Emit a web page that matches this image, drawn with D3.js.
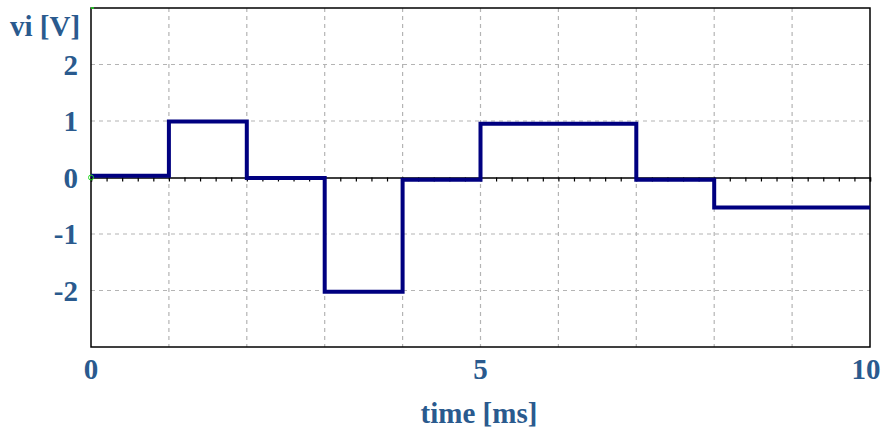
<!DOCTYPE html>
<html>
<head>
<meta charset="utf-8">
<script src="https://cdn.jsdelivr.net/npm/d3@7"></script>
<style>
  html, body { margin: 0; padding: 0; background: #fff; }
  svg { display: block; }
</style>
</head>
<body>
<svg id="chart" width="885" height="431"></svg>
<script>
// ---- data ----
const times = [0, 1, 2, 3, 4, 5, 7, 8, 10];
const voltages = [0.03, 0.99, -0.01, -2.02, -0.04, 0.95, -0.04, -0.53, -0.53];
const xTickLabels = [0, 5, 10];
const yTickLabels = [2, 1, 0, -1, -2];
const xGrid = [1, 2, 3, 4, 5, 6, 7, 8, 9];
const yGrid = [2, 1, -1, -2];
const xLabel = "time [ms]";
const yLabel = "vi [V]";

// ---- layout ----
const svg = d3.select("#chart");
const pLeft = 91, pRight = 870, pTop = 8, pBottom = 347;
const x = d3.scaleLinear().domain([0, 10]).range([pLeft, pRight]);
const y = d3.scaleLinear().domain([-3, 3]).range([pBottom, pTop]);
const textColor = "#2a5a8e";
const font = "'Liberation Serif', 'Times New Roman', serif";

// grid
svg.append("g").selectAll("line").data(xGrid).join("line")
  .attr("x1", d => x(d)).attr("x2", d => x(d))
  .attr("y1", pTop).attr("y2", pBottom)
  .attr("stroke", "#b4b4b4").attr("stroke-width", 1.2)
  .attr("stroke-dasharray", "4,4");
svg.append("g").selectAll("line").data(yGrid).join("line")
  .attr("x1", pLeft).attr("x2", pRight)
  .attr("y1", d => y(d)).attr("y2", d => y(d))
  .attr("stroke", "#b4b4b4").attr("stroke-width", 1.2)
  .attr("stroke-dasharray", "4,4");

// zero axis with minor ticks
const zeroAxis = d3.axisBottom(x)
  .tickValues(d3.range(0, 10.001, 0.2))
  .tickSize(4)
  .tickFormat("");
const za = svg.append("g").attr("transform", `translate(0,${y(0)})`).call(zeroAxis);
za.select(".domain").attr("stroke", "#000").attr("stroke-width", 1.5);
za.selectAll(".tick line").attr("stroke", "#000").attr("stroke-width", 1.2);

// frame
svg.append("rect")
  .attr("x", pLeft).attr("y", pTop)
  .attr("width", pRight - pLeft).attr("height", pBottom - pTop)
  .attr("fill", "none").attr("stroke", "#000").attr("stroke-width", 1.5);

// signal
const pts = times.map((t, i) => [t, voltages[i]]);
const line = d3.line().x(d => x(d[0])).y(d => y(d[1])).curve(d3.curveStepAfter);
svg.append("path")
  .datum(pts)
  .attr("d", line)
  .attr("fill", "none")
  .attr("stroke", "#000080")
  .attr("stroke-width", 4)
  .attr("stroke-linejoin", "miter");

// small green markers
svg.append("circle").attr("cx", x(0)).attr("cy", y(0)).attr("r", 2.5)
  .attr("fill", "none").attr("stroke", "#22dd22").attr("stroke-width", 1);
svg.append("line").attr("x1", x(0)).attr("x2", x(0) + 3).attr("y1", pTop).attr("y2", pTop)
  .attr("stroke", "#22dd22").attr("stroke-width", 1.5);

// y tick labels
svg.append("g").selectAll("text").data(yTickLabels).join("text")
  .attr("x", 78)
  .attr("y", d => y(d) + 10)
  .attr("text-anchor", "end")
  .attr("font-family", font).attr("font-weight", "bold")
  .attr("font-size", 29).attr("fill", textColor)
  .text(d => d);

// x tick labels
svg.append("g").selectAll("text").data(xTickLabels).join("text")
  .attr("x", d => d === 10 ? x(d) - 4 : x(d))
  .attr("y", 379)
  .attr("text-anchor", "middle")
  .attr("font-family", font).attr("font-weight", "bold")
  .attr("font-size", 29).attr("fill", textColor)
  .text(d => d);

// axis titles
svg.append("text")
  .attr("x", 479).attr("y", 423)
  .attr("text-anchor", "middle")
  .attr("font-family", font).attr("font-weight", "bold")
  .attr("font-size", 29).attr("fill", textColor)
  .text(xLabel);
svg.append("text")
  .attr("x", 10).attr("y", 36)
  .attr("text-anchor", "start")
  .attr("font-family", font).attr("font-weight", "bold")
  .attr("font-size", 29).attr("fill", textColor)
  .text(yLabel);
</script>
</body>
</html>
